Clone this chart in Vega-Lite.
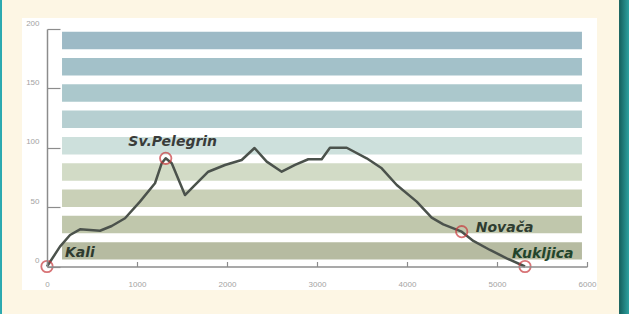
{
  "$schema": "https://vega.github.io/schema/vega-lite/v6.json",
  "width": 540,
  "height": 237.5,
  "autosize": {"type": "none"},
  "padding": {"left": 47, "top": 29, "right": 42, "bottom": 47.5},
  "background": "#fdf6e4",
  "config": {"view": {"stroke": null}},
  "datasets": {
    "bands": [
      {"band": 1, "lo": 5.8, "hi": 20.5},
      {"band": 2, "lo": 28.0, "hi": 42.7},
      {"band": 3, "lo": 50.1, "hi": 64.8},
      {"band": 4, "lo": 72.3, "hi": 87.0},
      {"band": 5, "lo": 94.4, "hi": 109.1},
      {"band": 6, "lo": 116.6, "hi": 131.3},
      {"band": 7, "lo": 138.7, "hi": 153.4},
      {"band": 8, "lo": 160.9, "hi": 175.6},
      {"band": 9, "lo": 183.0, "hi": 197.7}
    ],
    "profile": [
      {"d": 0, "h": 0},
      {"d": 144, "h": 16.7},
      {"d": 256, "h": 26.5},
      {"d": 367, "h": 31.3},
      {"d": 589, "h": 30.1},
      {"d": 719, "h": 34.1},
      {"d": 867, "h": 40.6},
      {"d": 1033, "h": 54.6},
      {"d": 1200, "h": 70.1},
      {"d": 1274, "h": 86.9},
      {"d": 1319, "h": 91.1},
      {"d": 1386, "h": 86.9},
      {"d": 1533, "h": 60.2},
      {"d": 1626, "h": 67.2},
      {"d": 1792, "h": 79.8},
      {"d": 1978, "h": 85.5},
      {"d": 2163, "h": 89.7},
      {"d": 2306, "h": 99.8},
      {"d": 2441, "h": 88.3},
      {"d": 2608, "h": 79.8},
      {"d": 2756, "h": 85.5},
      {"d": 2903, "h": 90.3},
      {"d": 3052, "h": 90.3},
      {"d": 3144, "h": 100},
      {"d": 3330, "h": 100},
      {"d": 3552, "h": 91.1},
      {"d": 3719, "h": 82.7},
      {"d": 3886, "h": 68.6},
      {"d": 4108, "h": 54.6},
      {"d": 4274, "h": 41.1},
      {"d": 4403, "h": 35.5},
      {"d": 4608, "h": 29.3},
      {"d": 4737, "h": 21.5},
      {"d": 4922, "h": 13.9},
      {"d": 5108, "h": 6.9},
      {"d": 5311, "h": 0}
    ],
    "places": [
      {"name": "Kali", "d": 0, "h": 0},
      {"name": "Sv.Pelegrin", "d": 1319, "h": 91.1},
      {"name": "Novača", "d": 4608, "h": 29.3},
      {"name": "Kukljica", "d": 5311, "h": 0}
    ]
  },
  "layer": [
    {
      "data": {"values": [{}]},
      "mark": {"type": "rect", "fill": "#2aa9b0"},
      "encoding": {
        "x": {"datum": -522, "type": "quantitative", "scale": {"domain": [0, 6000], "nice": false, "zero": false}},
        "x2": {"datum": -500},
        "y": {"datum": -40, "type": "quantitative", "scale": {"domain": [0, 200], "nice": false}},
        "y2": {"datum": 225}
      }
    },
    {
      "data": {"values": [{}]},
      "mark": {"type": "rect", "fill": {"x1": 0, "x2": 1, "y1": 0, "y2": 0, "gradient": "linear", "stops": [{"offset": 0, "color": "#135e5b"}, {"offset": 1, "color": "#2fa3a2"}]}},
      "encoding": {
        "x": {"datum": 6356, "type": "quantitative"},
        "x2": {"datum": 6470},
        "y": {"datum": -40, "type": "quantitative"},
        "y2": {"datum": 225}
      }
    },
    {
      "data": {"values": [{}]},
      "mark": {"type": "rect", "fill": "#ffffff"},
      "encoding": {
        "x": {"datum": -278, "type": "quantitative"},
        "x2": {"datum": 6111},
        "y": {"datum": -19.8, "type": "quantitative"},
        "y2": {"datum": 209.3}
      }
    },
    {
      "data": {"name": "bands"},
      "mark": {"type": "rect"},
      "encoding": {
        "x": {"datum": 167, "type": "quantitative"},
        "x2": {"datum": 5944},
        "y": {"field": "lo", "type": "quantitative"},
        "y2": {"field": "hi"},
        "fill": {
          "field": "band", "type": "ordinal", "legend": null,
          "scale": {"domain": [1, 2, 3, 4, 5, 6, 7, 8, 9],
                    "range": ["#b6bba1", "#c0c7ac", "#c9d0b7", "#d2dbc6", "#cde0dc", "#b6cfd1", "#abc8cc", "#a3c1c9", "#9dbac6"]}
        }
      }
    },
    {
      "data": {"name": "profile"},
      "mark": {"type": "line", "stroke": "#4b524c", "strokeWidth": 2.5, "strokeJoin": "round"},
      "encoding": {
        "x": {
          "field": "d", "type": "quantitative",
          "axis": {
            "values": [0, 1000, 2000, 3000, 4000, 5000, 6000],
            "format": "d",
            "title": null, "grid": false, "zindex": 1,
            "domainColor": "#8c8c8c", "domainWidth": 1.5,
            "tickColor": "#8c8c8c", "tickWidth": 1.2, "tickSize": -5,
            "labelColor": "#a3a3a3", "labelFontSize": 8, "labelFont": "Liberation Sans",
            "labelPadding": 19, "labelFlush": false
          }
        },
        "y": {
          "field": "h", "type": "quantitative",
          "axis": {
            "values": [0, 25, 50, 75, 100, 125, 150, 175, 200],
            "labelExpr": "datum.value % 50 == 0 ? datum.label : ''",
            "title": null, "grid": false, "zindex": 1,
            "domainColor": "#8c8c8c", "domainWidth": 1.5,
            "tickColor": "#8c8c8c", "tickWidth": 1.2, "tickSize": -13,
            "labelColor": "#a3a3a3", "labelFontSize": 8, "labelFont": "Liberation Sans",
            "labelPadding": 21, "labelOffset": -6, "labelFlush": false
          }
        }
      }
    },
    {
      "data": {"name": "places"},
      "mark": {"type": "point", "shape": "circle", "filled": false, "stroke": "#c8383c", "strokeWidth": 1.8, "size": 130},
      "encoding": {
        "x": {"field": "d", "type": "quantitative"},
        "y": {"field": "h", "type": "quantitative"}
      }
    },
    {
      "data": {"name": "places"},
      "transform": [{"filter": "datum.name == 'Kali'"}],
      "mark": {"type": "text", "align": "left", "baseline": "middle", "dx": 18, "dy": -13.5, "font": "DejaVu Sans", "fontSize": 14, "fontWeight": "bold", "fontStyle": "italic", "fill": "#2e3a2e"},
      "encoding": {
        "x": {"field": "d", "type": "quantitative"},
        "y": {"field": "h", "type": "quantitative"},
        "text": {"field": "name"}
      }
    },
    {
      "data": {"name": "places"},
      "transform": [{"filter": "datum.name == 'Sv.Pelegrin'"}],
      "mark": {"type": "text", "align": "center", "baseline": "middle", "dx": 7, "dy": -16.5, "font": "DejaVu Sans", "fontSize": 14, "fontWeight": "bold", "fontStyle": "italic", "fill": "#3a3c3a"},
      "encoding": {
        "x": {"field": "d", "type": "quantitative"},
        "y": {"field": "h", "type": "quantitative"},
        "text": {"field": "name"}
      }
    },
    {
      "data": {"name": "places"},
      "transform": [{"filter": "datum.name == 'Novača'"}],
      "mark": {"type": "text", "align": "left", "baseline": "middle", "dx": 14, "dy": -4, "font": "DejaVu Sans", "fontSize": 14, "fontWeight": "bold", "fontStyle": "italic", "fill": "#2f3d31"},
      "encoding": {
        "x": {"field": "d", "type": "quantitative"},
        "y": {"field": "h", "type": "quantitative"},
        "text": {"field": "name"}
      }
    },
    {
      "data": {"name": "places"},
      "transform": [{"filter": "datum.name == 'Kukljica'"}],
      "mark": {"type": "text", "align": "left", "baseline": "middle", "dx": -13, "dy": -12.5, "font": "DejaVu Sans", "fontSize": 14, "fontWeight": "bold", "fontStyle": "italic", "fill": "#22452c"},
      "encoding": {
        "x": {"field": "d", "type": "quantitative"},
        "y": {"field": "h", "type": "quantitative"},
        "text": {"field": "name"}
      }
    }
  ]
}
